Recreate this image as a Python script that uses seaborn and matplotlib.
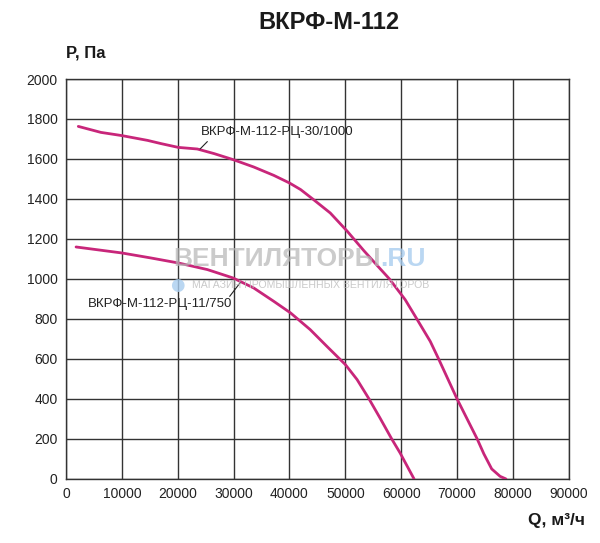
import pandas as pd
import matplotlib.pyplot as plt
import seaborn as sns

# кривые вентилятора ВКРФ-М-112 (Q, м3/ч ; P, Па)
q_30 = [2200, 6250, 10000, 14600, 17000, 20100, 23500, 26500, 29900, 33600,
        37200, 40000, 42000, 44300, 47300, 50300, 53300, 56200, 57900, 60700,
        62800, 65200, 66700, 70000, 73600, 74800, 76200, 77700, 78750]
p_30 = [1763, 1733, 1717, 1693, 1677, 1658, 1650, 1627, 1597, 1560,
        1518, 1480, 1447, 1397, 1330, 1240, 1142, 1052, 1000, 897,
        800, 688, 600, 400, 200, 125, 50, 13, 0]

q_11 = [1800, 10000, 15200, 20100, 25300, 29900, 33600, 37200, 40200, 43700,
        46700, 50000, 52100, 54200, 56200, 58300, 59800, 62300]
p_11 = [1160, 1130, 1105, 1080, 1047, 1005, 955, 888, 830, 747,
        663, 572, 497, 402, 305, 200, 130, 0]

series_names = ['ВКРФ-М-112-РЦ-30/1000', 'ВКРФ-М-112-РЦ-11/750']
x_ticks = [0, 10000, 20000, 30000, 40000, 50000, 60000, 70000, 80000, 90000]
y_ticks = [0, 200, 400, 600, 800, 1000, 1200, 1400, 1600, 1800, 2000]

curve_color = '#c8267a'

df = pd.concat([
    pd.DataFrame({'Q': q_30, 'P': p_30, 'fan': series_names[0]}),
    pd.DataFrame({'Q': q_11, 'P': p_11, 'fan': series_names[1]}),
])

sns.set_style('white')
plt.rcParams['font.family'] = ['Liberation Sans', 'DejaVu Sans']

fig = plt.figure(figsize=(6, 5.43), dpi=100)
ax = fig.add_axes([0.11, 0.118, 0.838, 0.7365])

sns.lineplot(data=df, x='Q', y='P', hue='fan', units='fan', estimator=None,
             sort=False, palette=[curve_color, curve_color], linewidth=2.0,
             legend=False, ax=ax, zorder=4)

ax.set_xlim(0, 90000)
ax.set_ylim(0, 2000)
ax.set_xticks(x_ticks)
ax.set_yticks(y_ticks)
ax.set_xticklabels([str(v) for v in x_ticks])
ax.set_yticklabels([str(v) for v in y_ticks])
ax.tick_params(length=0, labelsize=10, labelcolor='#222222', pad=6)
ax.grid(True, color='#333333', linewidth=1.0)
ax.set_axisbelow(True)
for s in ax.spines.values():
    s.set_color('#333333')
    s.set_linewidth(1.0)
ax.set_xlabel('')
ax.set_ylabel('')

# подписи кривых с выносками
ax.text(24200, 1733, series_names[0], fontsize=9.5, color='#222222', va='center')
ax.plot([25300, 24000], [1687, 1650], color='#222222', linewidth=0.8, zorder=5)
ax.text(3900, 877, series_names[1], fontsize=9.5, color='#222222', va='center')
ax.plot([29300, 31200], [913, 982], color='#222222', linewidth=0.8, zorder=5)

# водяной знак
wm = fig.text(0.288, 0.523, 'ВЕНТИЛЯТОРЫ', fontsize=19, fontweight='bold',
              color='#b5b5b5', alpha=0.7, va='center', ha='left', zorder=3)
ax.annotate('.RU', xy=(1, 0.5), xycoords=wm, va='center', ha='left',
            fontsize=19, fontweight='bold', color='#a9cdef', alpha=0.8,
            annotation_clip=False, zorder=3)
fig.text(0.32, 0.475, 'МАГАЗИН ПРОМЫШЛЕННЫХ ВЕНТИЛЯТОРОВ', fontsize=7.6,
         color='#c0c0c0', alpha=0.85, va='center', ha='left', zorder=3)
fig.text(0.296, 0.475, '●', fontsize=12, color='#a9cdef', alpha=0.8,
         va='center', ha='center', family=['DejaVu Sans'])

fig.text(0.548, 0.958, 'ВКРФ-М-112', fontsize=17, fontweight='bold',
         ha='center', va='center', color='#1a1a1a')
fig.text(0.11, 0.903, 'P, Па', fontsize=12, fontweight='bold',
         ha='left', va='center', color='#1a1a1a')
fig.text(0.975, 0.042, 'Q, м³/ч', fontsize=12.5, fontweight='bold',
         ha='right', va='center', color='#1a1a1a')

fig.savefig('out.png', dpi=100)
